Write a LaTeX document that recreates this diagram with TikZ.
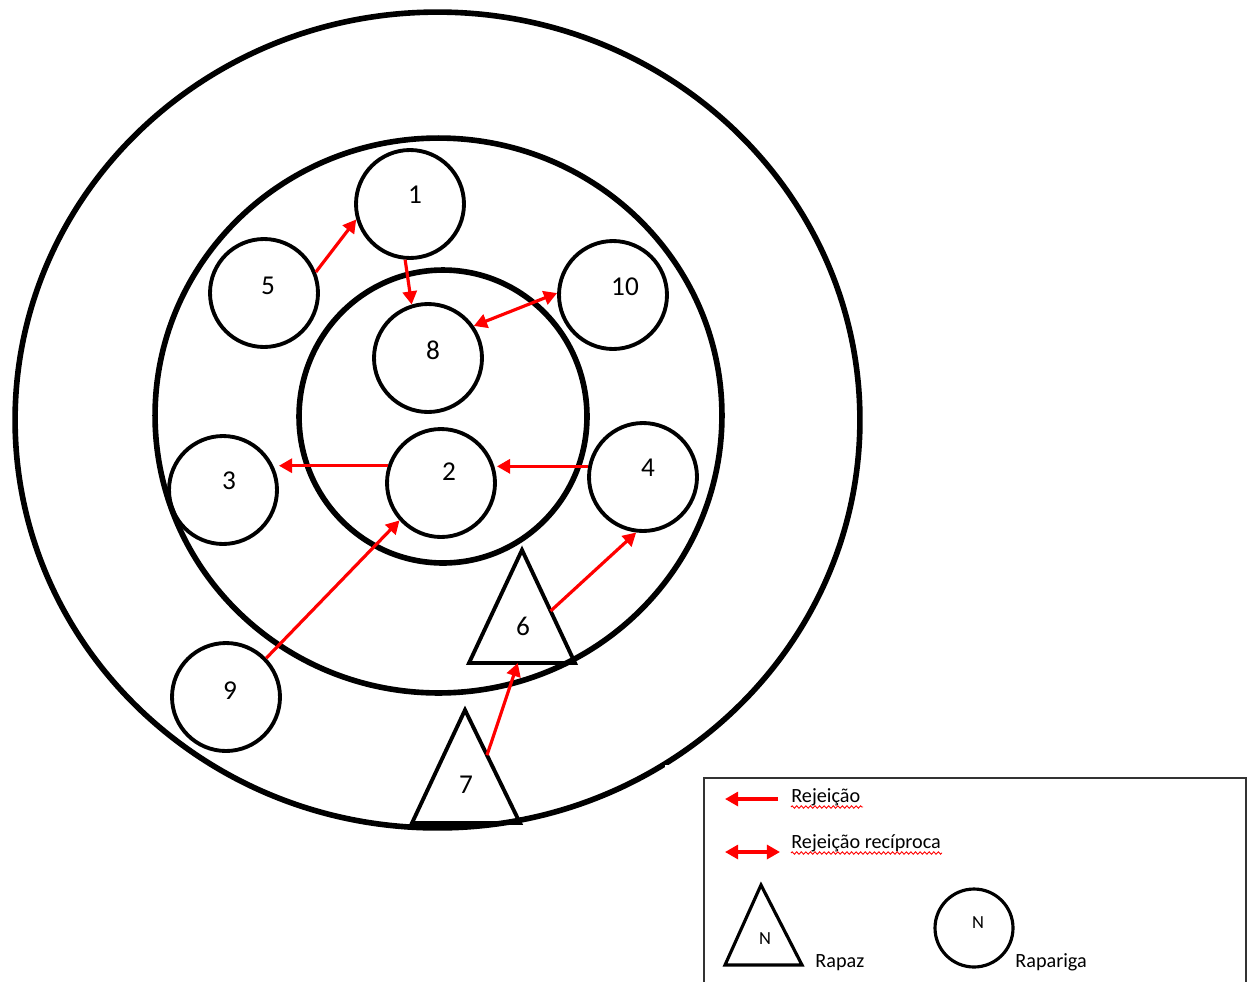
\documentclass[tikz,border=0pt]{standalone}
\usepackage{fontspec}
\setmainfont{Carlito}
\usetikzlibrary{arrows.meta,calc,decorations.pathmorphing}
\begin{document}
\begin{tikzpicture}[x=0.02cm,y=-0.02cm,
  ring/.style={draw,line width=3.2pt},
  pers/.style={draw,circle,line width=2.2pt,minimum size=2.16cm,inner sep=0pt},
  tri/.style={draw,line width=2.2pt,line join=miter},
  num/.style={font=\fontsize{15.5}{18}\selectfont,inner sep=0pt},
  tip/.tip={Triangle[length=7.5pt,width=8pt]},
  rej/.style={draw=red,line width=1.8pt,-tip},
  rejr/.style={draw=red,line width=1.8pt,tip-tip},
  lgtext/.style={font=\fontsize{11.5}{14}\selectfont,inner sep=0pt,anchor=base west},
  lgn/.style={font=\fontsize{10.5}{12}\selectfont,inner sep=0pt},
  squig/.style={draw=red,line width=0.5pt,decorate,decoration={zigzag,segment length=2.6pt,amplitude=0.7pt}}
]
\clip (0,0) rectangle (1253,981);
\fill[white] (0,0) rectangle (1253,981);

% rings
\draw[ring] (437.5,420) ellipse[x radius=8.45cm,y radius=8.16cm];
\draw[ring] (438.5,415.5) ellipse[x radius=5.67cm,y radius=5.55cm];
\draw[ring] (443,416.5) ellipse[x radius=2.88cm,y radius=2.93cm];

% persons (circles)
\node[pers] (c1) at (410,204) {};
\node[pers] (c5) at (264,293) {};
\node[pers] (c10) at (613,295) {};
\node[pers] (c8) at (428,358) {};
\node[pers] (c3) at (223,490) {};
\node[pers] (c2) at (441,483) {};
\node[pers] (c4) at (643,477) {};
\node[pers] (c9) at (226,697) {};

\node[num] (n1) at (415,195) {1};
\node[num] (n5) at (268,286) {5};
\node[num] (n10) at (625,287) {10};
\node[num] (n8) at (433,350) {8};
\node[num] (n3) at (229,481) {3};
\node[num] (n2) at (449,472) {2};
\node[num] (n4) at (648,468) {4};
\node[num] (n9) at (230,691) {9};

% triangles
\coordinate (t6a) at (522,550);
\coordinate (t6l) at (469,663);
\coordinate (t6r) at (575,663);
\draw[tri] (t6a) -- (t6l) -- (t6r) -- cycle;
\node[num] (n6) at (523,626) {6};

\coordinate (t7a) at (465,710);
\coordinate (t7l) at (412,823);
\coordinate (t7r) at (520,823);
\draw[tri] (t7a) -- (t7l) -- (t7r) -- cycle;
\node[num] (n7) at (466,785) {7};

\coordinate (s6) at ($(t6a)!0.54!(t6r)$);
\coordinate (b6) at ($(t6l)!0.46!(t6r)$);
\coordinate (s7) at ($(t7a)!0.4!(t7r)$);

% rejections
\draw[rej] (c5.22) -- (c1.196);
\draw[rej] (c1.-95) -- (c8.107);
\draw[rejr] (c8.35) -- (c10.178);
\draw[rej] (c2.162) -- (c2.162 -| c3.east);
\draw[rej] (c4.169) -- (c4.169 -| c2.east);
\draw[rej] (c9.44) -- (c2.222);
\draw[rej] (s6) -- (c4.-97);
\draw[rej] (s7) -- (b6);

% legend
\fill[white] (665,765) rectangle (1253,990);
\draw[line width=1.3pt,black!80] (704,778) rectangle (1246,995);

\coordinate (la1) at (778,799);
\coordinate (la2) at (725,799);
\draw[rej] (la1) -- (la2);
\node[lgtext] (lt1) at (791,802) {Rejeição};
\draw[squig] (791,807) -- (863,807);

\coordinate (lb1) at (725,852);
\coordinate (lb2) at (780,852);
\draw[rejr] (lb1) -- (lb2);
\node[lgtext] (lt2) at (791,848) {Rejeição recíproca};
\draw[squig] (791,853) -- (942,853);

\coordinate (lta) at (761,885);
\coordinate (ltl) at (725,965);
\coordinate (ltr) at (802,965);
\draw[tri,line width=1.8pt] (lta) -- (ltl) -- (ltr) -- cycle;
\node[lgn] (ln1) at (765,939) {N};
\node[lgtext] (lt3) at (815,967) {Rapaz};

\node[draw,circle,line width=1.8pt,minimum size=1.56cm,inner sep=0pt] (lc) at (974,928) {};
\node[lgn] (ln2) at (978,923) {N};
\node[lgtext] (lt4) at (1015,967) {Rapariga};
\end{tikzpicture}
\end{document}
